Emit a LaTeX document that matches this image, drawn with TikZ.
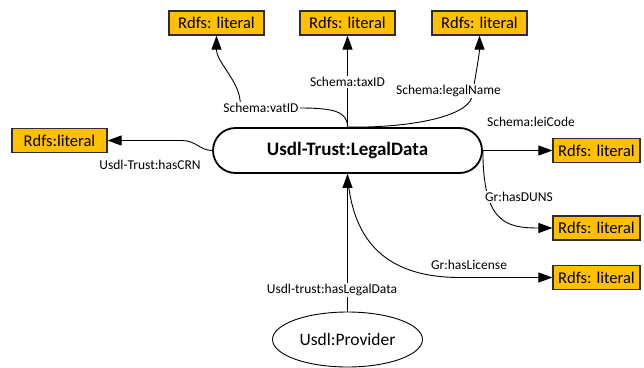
\documentclass[tikz,border=0pt]{standalone}
\usepackage{fontspec}
\setmainfont{Carlito}
\usetikzlibrary{arrows.meta,shapes.geometric}
\pgfdeclarelayer{bg}
\pgfsetlayers{bg,main}
\definecolor{litfill}{RGB}{255,192,0}
\definecolor{litedge}{RGB}{45,45,45}
\begin{document}
\begin{tikzpicture}[x=1pt,y=-1pt,
  lit/.style={draw=litedge, fill=litfill, line width=1.2pt, minimum width=95pt, minimum height=24pt, inner sep=0pt, font=\fontsize{16.5}{18}\selectfont},
  litr/.style={lit, minimum width=87pt},
  lbl/.style={font=\fontsize{13.5}{15}\selectfont, inner sep=1pt, fill=white},
  arr/.style={-{Triangle[length=14pt,width=10pt]}, line width=0.9pt},
]
\useasboundingbox (0,0) rectangle (644,367);
\node[draw, line width=1.8pt, rounded corners=22.5pt, minimum width=269pt, minimum height=45pt, font=\fontsize{19}{22}\selectfont\bfseries] (main) at (347.5,150.5) {Usdl-Trust:LegalData};
\node[draw, ellipse, line width=0.9pt, minimum width=150pt, minimum height=55pt, inner sep=0pt, font=\fontsize{17.5}{19}\selectfont] (prov) at (347.5,339.5) {Usdl:Provider};
\node[lit] (lit1) at (216.5,23) {Rdfs: literal};
\node[lit] (lit2) at (347.5,23) {Rdfs: literal};
\node[lit] (lit3) at (479.5,23) {Rdfs: literal};
\node[lit] (litL) at (59.5,140.5) {Rdfs:literal};
\node[litr] (litR1) at (596.5,150.5) {Rdfs: literal};
\node[litr] (litR2) at (596.5,228) {Rdfs: literal};
\node[litr] (litR3) at (596.5,277.5) {Rdfs: literal};
\node[lbl] (vatL) at (261,108) {Schema:vatID};
\node[lbl] (taxL) at (347.5,82) {Schema:taxID};
\node[lbl] (legL) at (448.5,91) {Schema:legalName};
\node[lbl] (leiL) at (531,122) {Schema:leiCode};
\node[lbl,anchor=west] (dunsL) at (484,197) {Gr:hasDUNS};
\node[lbl] (licL) at (469,265) {Gr:hasLicense};
\node[lbl] (crnL) at (150,165) {Usdl-Trust:hasCRN};
\node[lbl] (ldL) at (332,290) {Usdl-trust:hasLegalData};
\begin{pgfonlayer}{bg}
\draw[arr] (main.north) .. controls (347.5,112) and (335,108) .. (300,108) -- (250,108) .. controls (242,108) and (240,104) .. (240,100) .. controls (238,80) and (216.5,62) .. (lit1.south);
\draw[arr] (main.north) -- (lit2.south);
\draw[arr] (main.north) .. controls (405,128) and (466,118) .. (472,97) -- (474,85) .. controls (477,68) and (479.5,52) .. (lit3.south);
\draw[arr] (main.east) -- (litR1.west);
\draw[arr] (main.east) .. controls (483,222) and (505,228) .. (litR2.west);
\draw[arr] (main.south) .. controls (352,245) and (390,277.5) .. (460,277.5) -- (litR3.west);
\draw[arr] (main.west) .. controls (200,150.5) and (196,140.5) .. (182,140.5) -- (litL.east);
\draw[arr] (prov.north) -- (main.south);
\end{pgfonlayer}
\end{tikzpicture}
\end{document}
